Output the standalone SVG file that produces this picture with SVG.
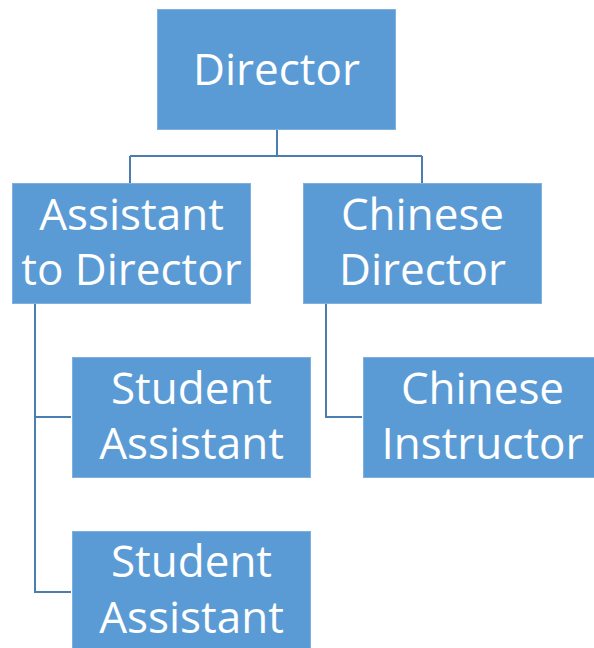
<svg xmlns="http://www.w3.org/2000/svg" width="594" height="648" viewBox="0 0 594 648">
<style>
.box{fill:#5b9bd5;stroke:#7fb0df;stroke-width:1}
.lbl{font-family:"Open Sans","Noto Sans","Liberation Sans",sans-serif;font-size:44px;fill:#ffffff;text-anchor:middle}
.conn{fill:none;stroke:#4a7eb0;stroke-width:2}
</style>
<rect width="594" height="648" fill="#ffffff"/>
<g id="connectors">
<path class="conn" d="M277 130 V156 M130 156 H422 M130 156 V183 M422 156 V183"/>
<path class="conn" d="M35 304 V592 H71 M35 417 H71"/>
<path class="conn" d="M326 304 V417 H362"/>
</g>
<g id="director">
<rect class="box" x="157.5" y="9.5" width="238" height="120"/>
<text class="lbl" x="276.5" y="85">Director</text>
</g>
<g id="assistant-to-director">
<rect class="box" x="12.5" y="183.5" width="238" height="120"/>
<text class="lbl" x="131.5" y="230">Assistant</text>
<text class="lbl" x="131.5" y="285">to Director</text>
</g>
<g id="chinese-director">
<rect class="box" x="303.5" y="183.5" width="238" height="120"/>
<text class="lbl" x="422.5" y="230">Chinese</text>
<text class="lbl" x="422.5" y="285">Director</text>
</g>
<g id="student-assistant-1">
<rect class="box" x="72.5" y="357.5" width="238" height="120"/>
<text class="lbl" x="191.5" y="404">Student</text>
<text class="lbl" x="191.5" y="459">Assistant</text>
</g>
<g id="chinese-instructor">
<rect class="box" x="363.5" y="357.5" width="238" height="120"/>
<text class="lbl" x="482.5" y="404">Chinese</text>
<text class="lbl" x="482.5" y="459">Instructor</text>
</g>
<g id="student-assistant-2">
<rect class="box" x="72.5" y="531.5" width="238" height="120"/>
<text class="lbl" x="191.5" y="577">Student</text>
<text class="lbl" x="191.5" y="633">Assistant</text>
</g>
</svg>
